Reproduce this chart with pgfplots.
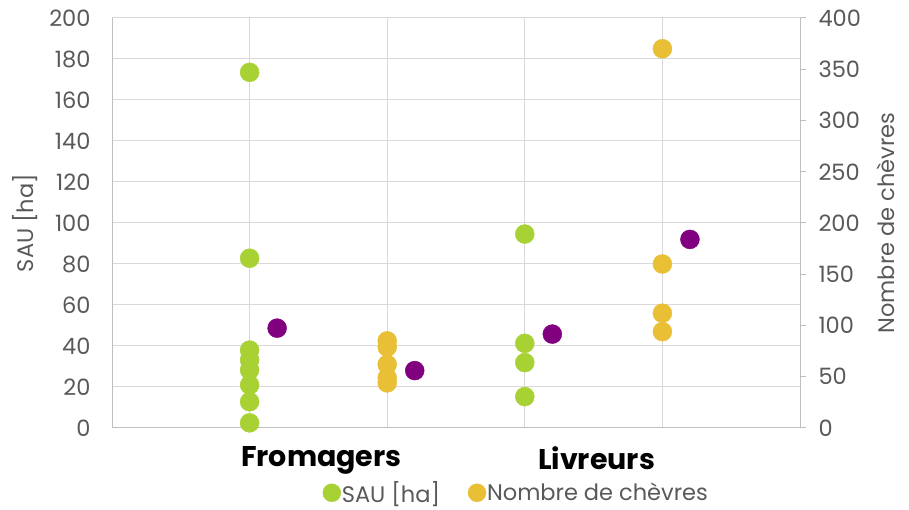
\documentclass[border=0pt]{standalone}
\usepackage{pgfplots}
\pgfplotsset{compat=1.18}
\usepackage{fontspec}
\setmainfont{Poppins}
\definecolor{sau}{HTML}{A8D134}
\definecolor{chev}{HTML}{E8BF35}
\definecolor{moy}{HTML}{800080}
\definecolor{txt}{HTML}{595959}
\definecolor{grd}{HTML}{D9D9D9}
\definecolor{axl}{HTML}{BFBFBF}
\newcommand\tickfont{\fontsize{22.5}{26}\selectfont}
\begin{document}
\begin{tikzpicture}
\path[use as bounding box] (0,0) rectangle (909pt,510pt);
% left axis: SAU
\begin{axis}[
  at={(112pt,82pt)}, anchor=south west,
  scale only axis, width=688pt, height=410pt,
  xmin=0, xmax=5, ymin=0, ymax=200,
  ytick={0,20,...,200},
  xtick={1.5,3.5}, xticklabels={Fromagers,Livreurs},
  minor xtick={0,1,...,5},
  ymajorgrids=true, xminorgrids=true,
  grid style={grd, line width=1pt},
  minor grid style={grd, line width=1pt},
  major tick length=0pt, minor tick length=0pt,
  axis x line*=bottom, axis y line*=left,
  axis line style={axl, line width=1pt, -},
  clip=false,
  /pgf/number format/assume math mode=true,
  xticklabel style={font=\fontsize{28.5}{32}\selectfont\bfseries, text=black, yshift=-15pt, xshift=3pt},
  yticklabel style={font=\tickfont, text=txt, xshift=-18pt},
  ylabel={SAU [ha]},
  ylabel style={font=\tickfont, text=txt, yshift=5pt},
  legend columns=2,
  legend style={at={(0.587,-0.158)}, anchor=center, draw=none, fill=none,
    font=\tickfont, text=txt, inner sep=0pt,
    nodes={inner sep=1pt},
    /tikz/every even column/.append style={column sep=27pt}},
  legend cell align=left,
]
\addlegendimage{only marks, mark=*, mark size=9pt, color=sau}
\addlegendentry{SAU [ha]}
\addlegendimage{only marks, mark=*, mark size=9pt, color=chev}
\addlegendentry{Nombre de chèvres}
% SAU, Fromagers et Livreurs
\addplot[only marks, mark=*, mark size=9.5pt, color=sau] coordinates {
  (1,173.5) (1,82.8) (1,38) (1,33.2) (1,28.3) (1,21) (1,12.8) (1,2.5)
  (3,94.6) (3,41.3) (3,31.9) (3,15.3)
};
% moyennes SAU
\addplot[only marks, mark=*, mark size=9.5pt, color=moy] coordinates {
  (1.2,48.7) (3.2,45.8)
};
\end{axis}
% right axis: nombre de chevres
\begin{axis}[
  at={(112pt,82pt)}, anchor=south west,
  scale only axis, width=688pt, height=410pt,
  xmin=0, xmax=5, ymin=0, ymax=400,
  ytick={0,50,...,400},
  axis x line=none, axis y line*=right,
  axis line style={axl, line width=1pt, -},
  tick style={axl, line width=1pt},
  tick align=outside, major tick length=6pt,
  clip=false,
  /pgf/number format/assume math mode=true,
  yticklabel style={font=\tickfont, text=txt, xshift=9pt},
  ylabel={Nombre de chèvres},
  ylabel style={font=\tickfont, text=txt, yshift=-9pt},
]
\addplot[only marks, mark=*, mark size=9.5pt, color=chev] coordinates {
  (2,85) (2,79) (2,62) (2,49) (2,44)
  (4,370) (4,160) (4,112) (4,94)
};
% moyennes chevres
\addplot[only marks, mark=*, mark size=9.5pt, color=moy] coordinates {
  (2.2,56) (4.2,184)
};
\end{axis}
\end{tikzpicture}
\end{document}
